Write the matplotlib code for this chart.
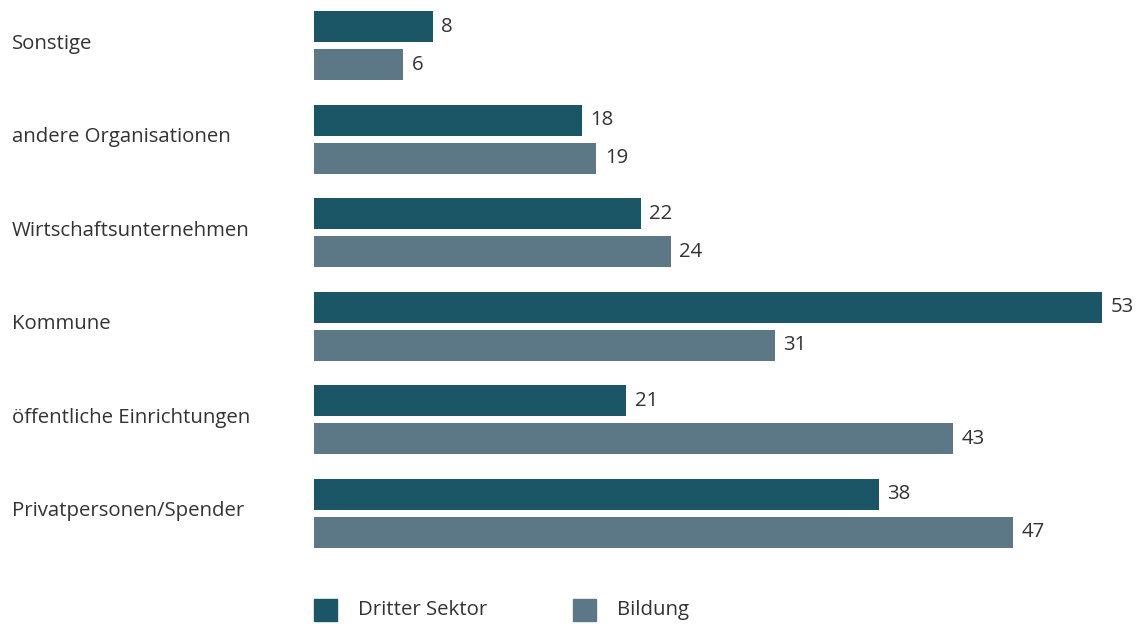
import matplotlib
matplotlib.use("Agg")
import matplotlib.pyplot as plt
from matplotlib.patches import Rectangle

plt.rcParams['font.family'] = ['Open Sans', 'DejaVu Sans']

# Categories top to bottom, values per sector
categories = ["Sonstige", "andere Organisationen", "Wirtschaftsunternehmen",
              "Kommune", "öffentliche Einrichtungen", "Privatpersonen/Spender"]
dritter_sektor = [8, 18, 22, 53, 21, 38]
bildung = [6, 19, 24, 31, 43, 47]
series_names = ["Dritter Sektor", "Bildung"]

col_dark = "#1b5666"
col_gray = "#5c7886"
text_col = "#333333"
fs = 14.7

fig = plt.figure(figsize=(11.4, 6.24), dpi=100)
ax = fig.add_axes([314 / 1140, 1 - 560 / 624, (1102 - 314) / 1140, 555 / 624])

h = 0.331
off = 0.203
ys = range(len(categories))
b1 = ax.barh([y - off for y in ys], dritter_sektor, height=h, color=col_dark)
b2 = ax.barh([y + off for y in ys], bildung, height=h, color=col_gray)

ax.set_xlim(0, 53)
ax.set_ylim(5.5, -0.435)
ax.axis('off')

# value labels right of each bar
for bars, vals in ((b1, dritter_sektor), (b2, bildung)):
    for bar, v in zip(bars, vals):
        ax.annotate(str(v), (bar.get_width(), bar.get_y() + bar.get_height() / 2),
                    xytext=(6, 0), textcoords='offset points', va='center',
                    ha='left', fontsize=fs, color=text_col, clip_on=False)

# category names at the left edge
for y, name in zip(ys, categories):
    ax.text(-(314 - 12) / (1102 - 314) * 53, y - 0.02, name, ha='left', va='center',
            fontsize=fs, color=text_col, clip_on=False)

# legend
for x0, col, name in ((314, col_dark, series_names[0]), (573, col_gray, series_names[1])):
    fig.patches.append(Rectangle((x0 / 1140, 1 - 621 / 624), 23 / 1140, 22 / 624,
                                 transform=fig.transFigure, color=col))
    fig.text((x0 + 44) / 1140, 1 - 610 / 624, name, ha='left', va='center',
             fontsize=fs, color=text_col)

fig.savefig("out.png", dpi=100)
